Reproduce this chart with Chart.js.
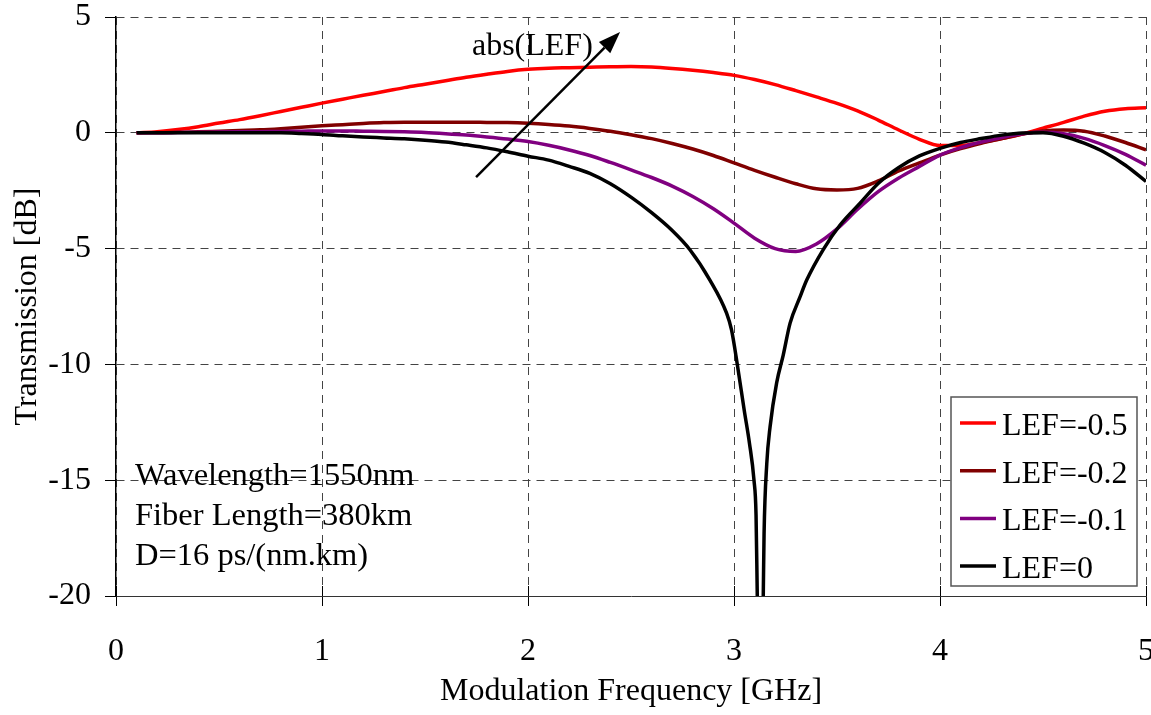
<!DOCTYPE html>
<html>
<head>
<meta charset="utf-8">
<title>Transmission vs Modulation Frequency</title>
<script src="https://cdn.jsdelivr.net/npm/chart.js@4.4.1/dist/chart.umd.min.js"></script>
<style>
  html, body { margin: 0; padding: 0; background: #fff; }
  canvas { display: block; }
</style>
</head>
<body>
<canvas id="chart" width="1151" height="715"></canvas>
<script>
// modulation frequency (GHz) shared by the three chirped curves
const freq = [0.1, 0.2, 0.3, 0.4, 0.5, 0.6, 0.7, 0.8, 0.9, 1.0,
  1.1, 1.2, 1.3, 1.4, 1.5, 1.6, 1.7, 1.8, 1.9, 2.0,
  2.1, 2.2, 2.3, 2.4, 2.5, 2.6, 2.7, 2.8, 2.9, 3.0,
  3.1, 3.2, 3.3, 3.4, 3.5, 3.6, 3.7, 3.8, 3.9, 4.0,
  4.1, 4.2, 4.3, 4.4, 4.5, 4.6, 4.7, 4.8, 4.9, 5.0];

const lef05 = [0.00, 0.05, 0.14, 0.26, 0.42, 0.57, 0.74, 0.92, 1.10, 1.28,
  1.45, 1.62, 1.78, 1.95, 2.10, 2.25, 2.40, 2.53, 2.65, 2.74,
  2.79, 2.81, 2.83, 2.85, 2.86, 2.84, 2.78, 2.70, 2.60, 2.48,
  2.30, 2.08, 1.82, 1.55, 1.27, 0.95, 0.55, 0.12, -0.28, -0.55,
  -0.55, -0.42, -0.25, -0.05, 0.20, 0.45, 0.72, 0.93, 1.04, 1.08];

const lef02 = [0.00, 0.00, 0.02, 0.04, 0.07, 0.10, 0.13, 0.18, 0.24, 0.30,
  0.35, 0.40, 0.44, 0.46, 0.46, 0.46, 0.46, 0.45, 0.44, 0.41,
  0.36, 0.29, 0.19, 0.07, -0.08, -0.25, -0.46, -0.70, -0.98, -1.30,
  -1.62, -1.92, -2.20, -2.42, -2.47, -2.40, -2.08, -1.65, -1.30, -0.96,
  -0.68, -0.45, -0.25, -0.05, 0.08, 0.12, 0.07, -0.14, -0.42, -0.74];

const lef01 = [0.00, 0.00, 0.01, 0.02, 0.03, 0.04, 0.05, 0.06, 0.07, 0.08,
  0.08, 0.07, 0.06, 0.04, 0.01, -0.04, -0.10, -0.18, -0.27, -0.38,
  -0.54, -0.74, -0.98, -1.28, -1.60, -1.93, -2.30, -2.75, -3.28, -3.90,
  -4.55, -5.00, -5.12, -4.80, -4.15, -3.30, -2.54, -1.95, -1.45, -0.96,
  -0.64, -0.40, -0.20, -0.04, 0.02, -0.04, -0.24, -0.55, -0.93, -1.40];

// LEF=0 has a deep notch, read more densely around it
const freqLef0 = [0.1, 0.2, 0.3, 0.4, 0.5, 0.6, 0.7, 0.8, 0.9, 1.0,
  1.1, 1.2, 1.3, 1.4, 1.5, 1.6, 1.7, 1.8, 1.9, 2.0,
  2.1, 2.2, 2.3, 2.4, 2.5, 2.6, 2.7, 2.786, 2.883, 2.964,
  2.988, 3.016, 3.05, 3.075, 3.097, 3.107, 3.113, 3.128, 3.142, 3.146,
  3.159, 3.175, 3.207, 3.239, 3.272, 3.32, 3.353, 3.434, 3.515, 3.612,
  3.701, 3.8, 3.9, 4.0, 4.1, 4.2, 4.3, 4.4, 4.5, 4.6,
  4.7, 4.8, 4.9, 5.0];

const lef0 = [0.00, 0.00, 0.00, 0.00, 0.00, 0.00, 0.00, 0.00, -0.03, -0.07,
  -0.13, -0.18, -0.22, -0.26, -0.32, -0.40, -0.52, -0.65, -0.82, -1.01,
  -1.18, -1.45, -1.75, -2.20, -2.78, -3.45, -4.22, -5.05, -6.36, -7.79,
  -8.51, -10.00, -12.00, -13.40, -15.00, -16.50, -20.00, -28.00, -20.00, -17.30,
  -14.30, -12.70, -10.80, -9.60, -8.23, -7.10, -6.36, -5.03, -3.98, -3.04,
  -2.18, -1.50, -1.00, -0.67, -0.42, -0.25, -0.10, -0.01, 0.00, -0.15,
  -0.45, -0.85, -1.40, -2.10];

const xTicks = [0, 1, 2, 3, 4, 5];
const yTicks = [-20, -15, -10, -5, 0, 5];
const seriesNames = ["LEF=-0.5", "LEF=-0.2", "LEF=-0.1", "LEF=0"];
const seriesColors = ["#ff0000", "#800000", "#800080", "#000000"];
const infoLines = ["Wavelength=1550nm", "Fiber Length=380km", "D=16 ps/(nm.km)"];

const FONT = "'Liberation Serif', 'Times New Roman', serif";

const pts = (xs, ys) => xs.map((f, i) => ({ x: f, y: ys[i] }));

const makeSet = (i, data) => ({
  label: seriesNames[i],
  data: data,
  borderColor: seriesColors[i],
  backgroundColor: seriesColors[i],
  borderWidth: 3.5,
  pointRadius: 0,
  cubicInterpolationMode: "monotone",
  fill: false,
  order: 3 - i
});

// arrow, labels and legend drawn on top of the plot
const overlay = {
  id: "overlay",
  afterDraw(chart) {
    const { ctx, chartArea: area, scales: { x, y } } = chart;
    ctx.save();

    // x ticks cross the axis line
    ctx.strokeStyle = "#000";
    ctx.lineWidth = 1;
    xTicks.forEach(v => {
      const px = Math.round(x.getPixelForValue(v)) + 0.5;
      ctx.beginPath();
      ctx.moveTo(px, area.bottom - 10);
      ctx.lineTo(px, area.bottom);
      ctx.stroke();
    });

    // text block
    ctx.fillStyle = "#000";
    ctx.font = "32.5px " + FONT;
    ctx.textAlign = "left";
    ctx.textBaseline = "alphabetic";
    const ix = x.getPixelForValue(0.092);
    const iy = y.getPixelForValue(-15.21);
    infoLines.forEach((t, i) => ctx.fillText(t, ix, iy + i * 40));

    // abs(LEF) arrow
    const x0 = x.getPixelForValue(1.748), y0 = y.getPixelForValue(-1.91);
    const x1 = x.getPixelForValue(2.447), y1 = y.getPixelForValue(4.35);
    const ang = Math.atan2(y1 - y0, x1 - x0);
    const headLen = 22, headW = 8;
    ctx.strokeStyle = "#000";
    ctx.lineWidth = 2.5;
    ctx.beginPath();
    ctx.moveTo(x0, y0);
    ctx.lineTo(x1 - headLen * Math.cos(ang), y1 - headLen * Math.sin(ang));
    ctx.stroke();
    ctx.beginPath();
    ctx.moveTo(x1, y1);
    ctx.lineTo(x1 - headLen * Math.cos(ang) + headW * Math.sin(ang),
               y1 - headLen * Math.sin(ang) - headW * Math.cos(ang));
    ctx.lineTo(x1 - headLen * Math.cos(ang) - headW * Math.sin(ang),
               y1 - headLen * Math.sin(ang) + headW * Math.cos(ang));
    ctx.closePath();
    ctx.fill();

    ctx.font = "32px " + FONT;
    ctx.fillText("abs(LEF)", x.getPixelForValue(1.728), y.getPixelForValue(3.36));

    // legend box, bottom right inside the plot
    const bw = 186, bh = 189;
    const bx = area.right - 9 - bw, by = area.bottom - 10 - bh;
    ctx.fillStyle = "#fff";
    ctx.fillRect(bx, by, bw, bh);
    ctx.strokeStyle = "#555";
    ctx.lineWidth = 1.5;
    ctx.strokeRect(bx, by, bw, bh);
    ctx.font = "32px " + FONT;
    seriesNames.forEach((name, i) => {
      const base = by + 38 + i * 47.7;
      ctx.strokeStyle = seriesColors[i];
      ctx.lineWidth = 3.5;
      ctx.beginPath();
      ctx.moveTo(bx + 9, base - 12);
      ctx.lineTo(bx + 45, base - 12);
      ctx.stroke();
      ctx.fillStyle = "#000";
      ctx.fillText(name, bx + 51, base);
    });

    ctx.restore();
  }
};

new Chart(document.getElementById("chart"), {
  type: "line",
  data: {
    datasets: [
      makeSet(0, pts(freq, lef05)),
      makeSet(1, pts(freq, lef02)),
      makeSet(2, pts(freq, lef01)),
      makeSet(3, pts(freqLef0, lef0))
    ]
  },
  options: {
    responsive: false,
    animation: false,
    layout: { padding: { top: 17, right: 5, left: 0, bottom: 0 } },
    plugins: { legend: { display: false }, tooltip: { enabled: false } },
    scales: {
      x: {
        type: "linear",
        min: 0,
        max: 5,
        afterBuildTicks: s => { s.ticks = xTicks.map(v => ({ value: v })); },
        afterFit: s => { s.height = 119; s.paddingLeft = 0; s.paddingRight = 0; },
        ticks: { color: "#000", font: { family: FONT, size: 32 }, padding: 26, maxRotation: 0 },
        grid: { color: "#444", lineWidth: 1, tickLength: 10, tickColor: "#000" },
        border: { color: "#333", width: 1, dash: [8, 6] },
        title: {
          display: true,
          text: "Modulation Frequency [GHz]",
          color: "#000",
          font: { family: FONT, size: 32 },
          padding: { top: 0, bottom: 4 }
        }
      },
      y: {
        type: "linear",
        min: -20,
        max: 5,
        afterBuildTicks: s => { s.ticks = yTicks.map(v => ({ value: v })); },
        afterFit: s => { s.width = 116; s.paddingTop = 0; s.paddingBottom = 0; },
        ticks: { color: "#000", font: { family: FONT, size: 32 }, padding: 14 },
        grid: { color: "#444", lineWidth: 1, tickLength: 11, tickColor: "#000" },
        border: { color: "#000", width: 1.5, dash: [8, 6] },
        title: {
          display: true,
          text: "Transmission [dB]",
          color: "#000",
          font: { family: FONT, size: 32 },
          padding: { top: 8, bottom: 0 }
        }
      }
    }
  },
  plugins: [overlay]
});
</script>
</body>
</html>
